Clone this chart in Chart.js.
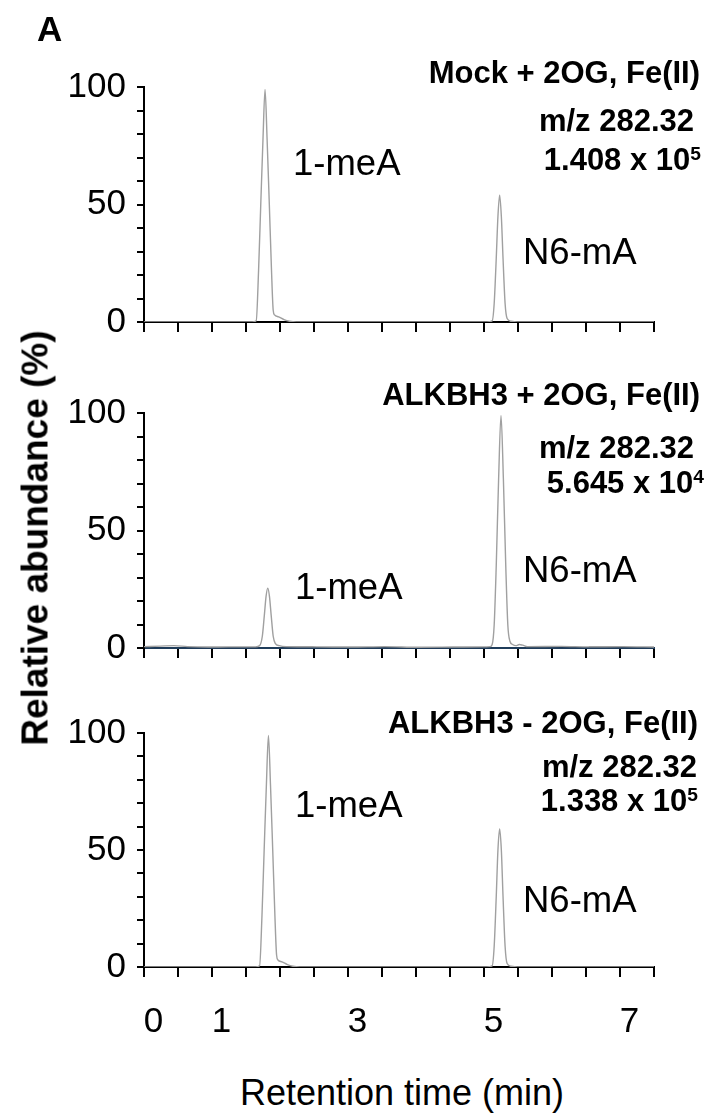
<!DOCTYPE html>
<html>
<head>
<meta charset="utf-8">
<script src="https://cdn.jsdelivr.net/npm/chart.js@4.4.1/dist/chart.umd.min.js"></script>
<style>
body { margin: 0; background: #fff; }
#wrap { position: relative; width: 716px; height: 1113px; overflow: hidden; font-family: "Liberation Sans", Arial, sans-serif; color: #000; }
canvas { position: absolute; left: 0; }
.t { position: absolute; line-height: 1; white-space: nowrap; transform: translateY(-50%); }
.b { font-weight: bold; font-size: 31px; }
.r { font-size: 36.5px; }
.sup { font-size: 0.62em; position: relative; top: -0.5em; }
</style>
</head>
<body>
<div id="wrap">
    <canvas id="chart1" width="716" height="322" style="top:40px"></canvas>
    <canvas id="chart2" width="716" height="322" style="top:366px"></canvas>
    <canvas id="chart3" width="716" height="361" style="top:686px"></canvas>

    <div class="t b" style="left:37px; top:28px; font-size:35px;">A</div>
    <div class="t b" style="left:35px; top:538px; font-size:37px; transform:translate(-50%,-50%) rotate(-90deg);">Relative abundance (%)</div>
    <div class="t r" style="left:402px; top:1093px; font-size:36px; transform:translate(-50%,-50%);">Retention time (min)</div>

    <!-- panel 1 -->
    <div class="t b" style="right:16px; top:72px;">Mock + 2OG, Fe(II)</div>
    <div class="t b" style="right:22px; top:120px;">m/z 282.32</div>
    <div class="t b" style="right:15px; top:159px;">1.408 x 10<span class="sup">5</span></div>
    <div class="t r" style="left:293px; top:163px;">1-meA</div>
    <div class="t r" style="left:523px; top:252px;">N6-mA</div>

    <!-- panel 2 -->
    <div class="t b" style="right:16px; top:394px;">ALKBH3 + 2OG, Fe(II)</div>
    <div class="t b" style="right:22px; top:447px;">m/z 282.32</div>
    <div class="t b" style="right:12px; top:482px;">5.645 x 10<span class="sup">4</span></div>
    <div class="t r" style="left:295px; top:587px;">1-meA</div>
    <div class="t r" style="left:523px; top:570px;">N6-mA</div>

    <!-- panel 3 -->
    <div class="t b" style="right:18px; top:722px;">ALKBH3 - 2OG, Fe(II)</div>
    <div class="t b" style="right:19px; top:766px;">m/z 282.32</div>
    <div class="t b" style="right:18px; top:800px;">1.338 x 10<span class="sup">5</span></div>
    <div class="t r" style="left:295px; top:805px;">1-meA</div>
    <div class="t r" style="left:523px; top:900px;">N6-mA</div>
</div>

<script>
// axis settings (minutes / %)
const xMin = -0.14;
const xMax = 7.36;
const xTickStep = 0.5;
const xTickLabels = [0, 1, 3, 5, 7];
const yTickLabels = [0, 50, 100];

// Mock + 2OG, Fe(II)
const mockTime = [-0.14, 1.45, 1.51, 1.545, 1.577, 1.61, 1.64, 1.67, 1.703, 1.735, 1.76, 1.78, 1.84, 1.92, 2.0, 2.1,
    4.9, 4.98, 5.01, 5.04, 5.065, 5.09, 5.115, 5.14, 5.17, 5.2, 5.26, 5.35, 7.36];
const mockAbund = [0, 0, 0.5, 22, 50, 78, 99, 78, 50, 22, 5, 3, 2.2, 1, 0.3, 0,
    0, 0.5, 8, 27, 45, 54, 45, 27, 8, 1.5, 0.3, 0, 0];

// ALKBH3 + 2OG, Fe(II)
const plusTime = [-0.14, 0.1, 0.3, 0.5, 0.8, 1.1, 1.4, 1.5, 1.56, 1.6, 1.63, 1.655, 1.68, 1.705, 1.73, 1.76, 1.79, 1.85, 1.95,
    2.4, 2.9, 3.4, 3.9, 4.4, 4.85, 4.95, 4.98, 5.01, 5.04, 5.075, 5.11, 5.145, 5.18, 5.21, 5.24, 5.28, 5.33, 5.38, 5.43, 5.5,
    6.0, 6.4, 6.9, 7.36];
const plusAbund = [0.6, 0.8, 1.0, 0.6, 0.4, 0.5, 0.5, 0.5, 1, 5, 14, 22, 25.5, 22, 14, 5, 2, 1, 0.6,
    0.5, 0.4, 0.6, 0.3, 0.4, 0.5, 0.6, 1.5, 10, 35, 72, 99, 72, 35, 10, 3, 1.5, 1, 1.5, 1.2, 0.6,
    0.7, 0.5, 0.6, 0.4];

// ALKBH3 - 2OG, Fe(II)
const minusTime = [-0.14, 1.5, 1.56, 1.595, 1.627, 1.66, 1.69, 1.72, 1.753, 1.785, 1.81, 1.83, 1.89, 1.97, 2.05, 2.15,
    4.9, 4.98, 5.01, 5.04, 5.065, 5.09, 5.115, 5.14, 5.17, 5.2, 5.26, 5.35, 7.36];
const minusAbund = [0, 0, 0.5, 22, 50, 78, 99, 78, 50, 22, 5, 3, 2.2, 1, 0.3, 0,
    0, 0.5, 9, 30, 50, 59, 50, 30, 9, 1.5, 0.3, 0, 0];

const fontFamily = '"Liberation Sans", Arial, sans-serif';

function buildChart(canvasId, times, values, showLabels, axisColor) {
    const points = times.map((t, i) => ({ x: t, y: values[i] }));
    const labelSet = new Set(showLabels ? xTickLabels : []);

    return new Chart(document.getElementById(canvasId), {
        type: 'line',
        data: {
            datasets: [
                {
                    data: points,
                    borderColor: '#a0a0a0',
                    borderWidth: 1.4,
                    pointRadius: 0,
                    fill: false,
                    cubicInterpolationMode: 'monotone'
                }
            ]
        },
        options: {
            responsive: false,
            animation: false,
            layout: { padding: { top: 47, right: 62, left: 0, bottom: 0 } },
            plugins: { legend: { display: false }, tooltip: { enabled: false } },
            scales: {
                x: {
                    type: 'linear',
                    min: xMin,
                    max: xMax,
                    afterBuildTicks: scale => {
                        const ticks = [];
                        for (let k = 0; xMin + k * xTickStep <= xMax + 1e-6; k++) {
                            ticks.push({ value: xMin + k * xTickStep });
                        }
                        labelSet.forEach(v => ticks.push({ value: v }));
                        ticks.sort((a, b) => a.value - b.value);
                        scale.ticks = ticks;
                    },
                    // room below the axis (must also cover the half height of the "0" label)
                    afterFit: scale => { scale.height = showLabels ? 80 : 40; },
                    grid: {
                        drawOnChartArea: false,
                        drawTicks: true,
                        tickLength: 10,
                        lineWidth: 2,
                        color: ctx => (ctx.tick && labelSet.has(ctx.tick.value)) ? 'rgba(0,0,0,0)' : '#000'
                    },
                    border: { display: true, color: axisColor, width: 2 },
                    ticks: {
                        autoSkip: false,
                        maxRotation: 0,
                        padding: 24,
                        color: '#000',
                        font: { family: fontFamily, size: 35 },
                        callback: v => labelSet.has(v) ? String(v) : ''
                    }
                },
                y: {
                    min: 0,
                    max: 100,
                    afterFit: scale => { scale.width = 144; },
                    grid: { drawOnChartArea: false, tickLength: 7, lineWidth: 2, color: '#000' },
                    border: { display: true, color: '#000', width: 2 },
                    ticks: {
                        stepSize: 10,
                        autoSkip: false,
                        padding: 11,
                        color: '#000',
                        font: { family: fontFamily, size: 35 },
                        callback: v => yTickLabels.includes(v) ? String(v) : ''
                    }
                }
            }
        }
    });
}

window.onload = () => {
    buildChart('chart1', mockTime, mockAbund, false, '#000');
    buildChart('chart2', plusTime, plusAbund, false, '#1f3c5a');
    buildChart('chart3', minusTime, minusAbund, true, '#000');
};
</script>
</body>
</html>
